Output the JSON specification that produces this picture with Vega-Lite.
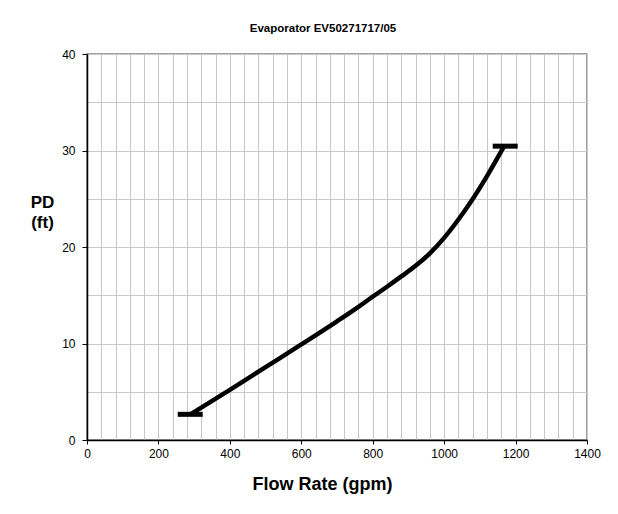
{
  "$schema": "https://vega.github.io/schema/vega-lite/v6.json",
  "width": 500,
  "height": 386,
  "autosize": "none",
  "padding": {"left": 87, "top": 54, "right": 31, "bottom": 74},
  "background": "white",
  "title": {
    "text": "Evaporator EV50271717/05",
    "font": "Liberation Sans",
    "fontSize": 11.5,
    "fontWeight": "bold",
    "color": "black",
    "anchor": "middle",
    "baseline": "alphabetic",
    "offset": 5,
    "dx": -14
  },
  "config": {
    "view": {"stroke": "#808080", "strokeWidth": 1.5},
    "axis": {
      "labelFont": "Liberation Sans",
      "labelFontSize": 12,
      "labelColor": "black",
      "titleFont": "Liberation Sans",
      "titleColor": "black",
      "titleFontWeight": "bold",
      "domainColor": "black",
      "domainWidth": 1.5,
      "tickColor": "black",
      "gridColor": "#c8c8c8",
      "gridWidth": 1,
      "labelFlush": false,
      "labelOverlap": false
    }
  },
  "datasets": {
    "curve": [
      {"flow": 290, "pd": 2.66},
      {"flow": 400, "pd": 5.2},
      {"flow": 500, "pd": 7.55},
      {"flow": 600, "pd": 9.9},
      {"flow": 700, "pd": 12.3},
      {"flow": 760, "pd": 13.8},
      {"flow": 800, "pd": 14.85},
      {"flow": 840, "pd": 15.88},
      {"flow": 880, "pd": 16.95},
      {"flow": 920, "pd": 18.05},
      {"flow": 960, "pd": 19.35},
      {"flow": 1000, "pd": 20.95},
      {"flow": 1040, "pd": 22.85},
      {"flow": 1080, "pd": 24.98},
      {"flow": 1120, "pd": 27.35},
      {"flow": 1168, "pd": 30.45}
    ],
    "ends": [
      {"flow": 289, "pd": 2.66},
      {"flow": 1171, "pd": 30.45}
    ]
  },
  "encoding": {
    "x": {
      "field": "flow",
      "type": "quantitative",
      "scale": {"domain": [0, 1400], "nice": false, "zero": true},
      "axis": {
        "values": [0,40,80,120,160,200,240,280,320,360,400,440,480,520,560,600,640,680,720,760,800,840,880,920,960,1000,1040,1080,1120,1160,1200,1240,1280,1320,1360,1400],
        "format": "d",
        "labelExpr": "datum.value % 200 === 0 ? datum.label : ''",
        "tickSize": 4,
        "tickOpacity": {"condition": {"test": "datum.value % 200 === 0", "value": 1}, "value": 0},
        "labelPadding": 4,
        "title": "Flow Rate (gpm)",
        "titleFontSize": 18,
        "titleX": 235,
        "titleY": 49,
        "titleBaseline": "alphabetic",
        "titleAlign": "center"
      }
    },
    "y": {
      "field": "pd",
      "type": "quantitative",
      "scale": {"domain": [0, 40], "nice": false},
      "axis": {
        "values": [0,5,10,15,20,25,30,35,40],
        "format": "d",
        "labelExpr": "datum.value % 10 === 0 ? datum.label : ''",
        "tickSize": 5,
        "tickOpacity": {"condition": {"test": "datum.value % 10 === 0", "value": 1}, "value": 0},
        "labelPadding": 7,
        "title": ["PD", "(ft)"],
        "titleFontSize": 17,
        "titleAngle": 0,
        "titleAlign": "center",
        "titleBaseline": "alphabetic",
        "titleLineHeight": 20,
        "titleX": -45,
        "titleY": 153
      }
    }
  },
  "layer": [
    {
      "data": {"name": "curve"},
      "mark": {"type": "line", "color": "black", "strokeWidth": 4.5, "interpolate": "monotone"}
    },
    {
      "data": {"name": "ends"},
      "mark": {"type": "tick", "orient": "horizontal", "color": "black", "opacity": 1, "size": 25, "thickness": 5}
    }
  ]
}
